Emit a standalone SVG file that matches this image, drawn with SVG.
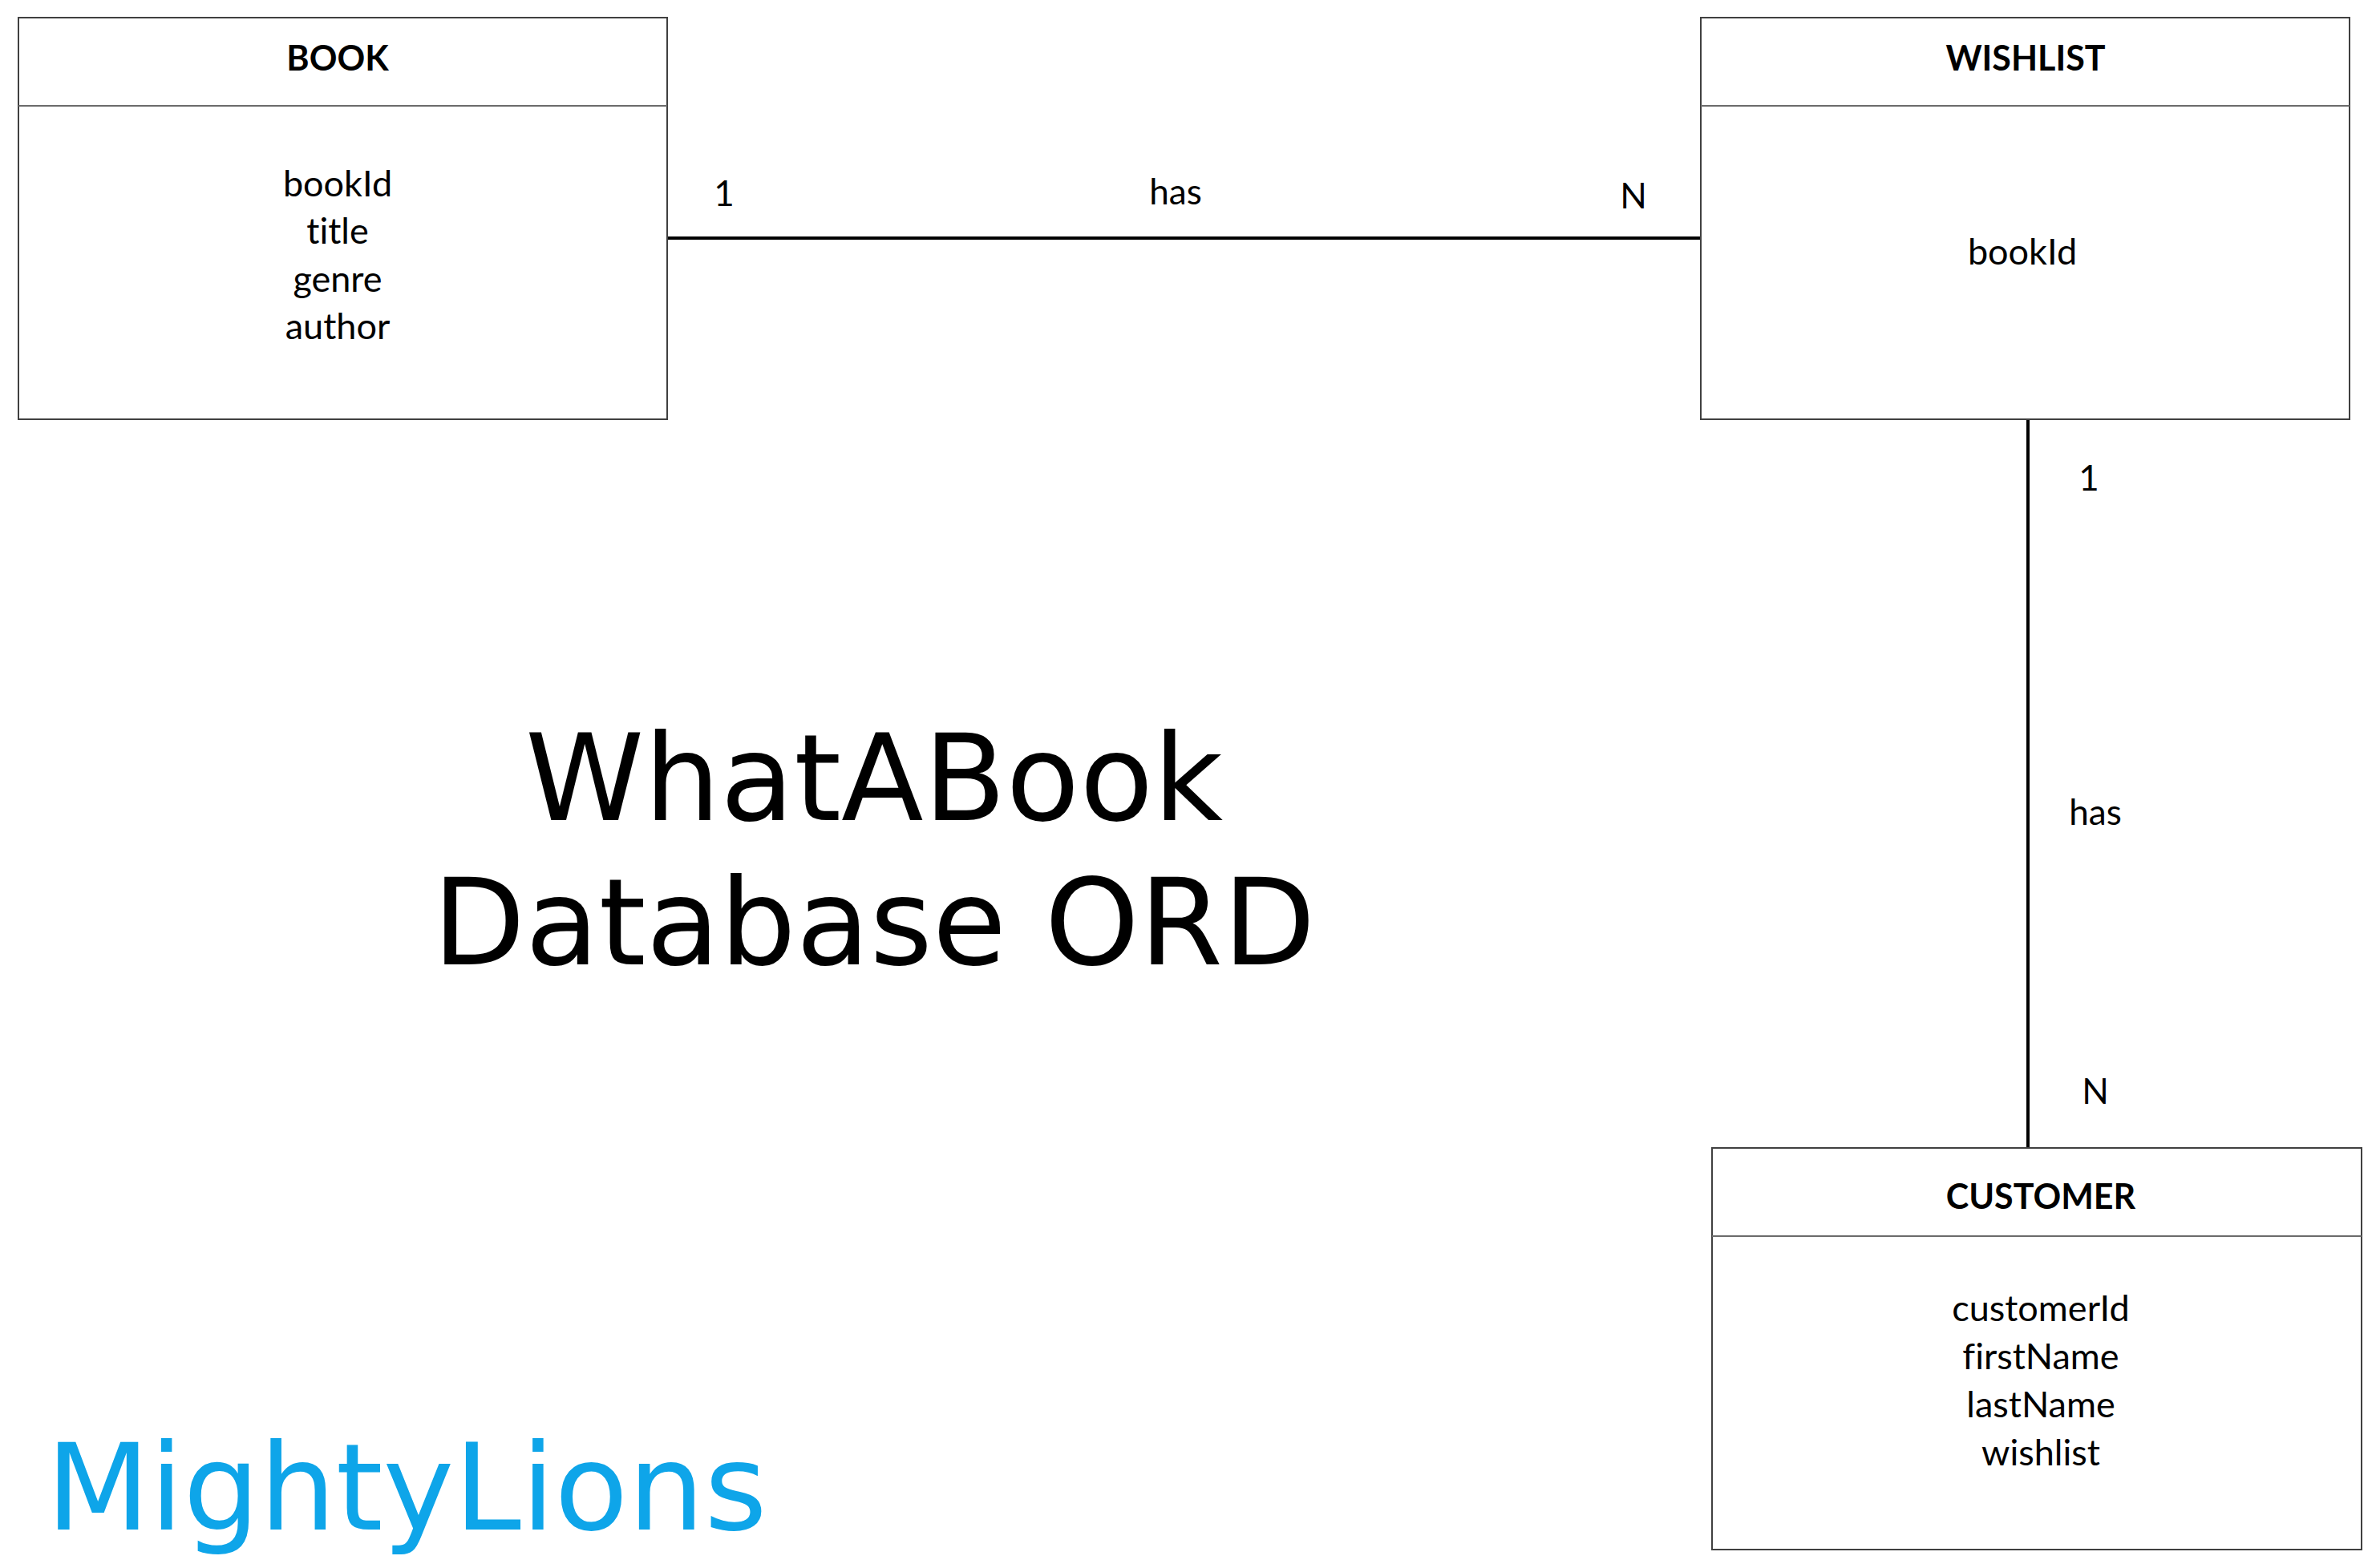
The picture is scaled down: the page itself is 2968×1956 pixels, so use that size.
<svg xmlns="http://www.w3.org/2000/svg" width="2968" height="1956" viewBox="0 0 2968 1956">
  <style>
    text { font-variant-ligatures: none; }
    .box { fill: #ffffff; stroke: #404040; stroke-width: 2; }
    .div { stroke: #6b6b6b; stroke-width: 2; }
    .hdr { font-family: Lato, "Liberation Sans", sans-serif; font-weight: bold; font-size: 43px; fill: #000; text-anchor: middle; }
    .attr { font-family: Lato, "Liberation Sans", sans-serif; font-size: 45px; fill: #000; text-anchor: middle; }
    .lbl { font-family: Lato, "Liberation Sans", sans-serif; font-size: 44px; fill: #000; text-anchor: middle; }
    .conn { stroke: #000; stroke-width: 4; fill: none; }
    .big { font-family: "DejaVu Sans", sans-serif; font-size: 150px; fill: #000; text-anchor: middle; }
    .brand { font-family: "DejaVu Sans", sans-serif; font-size: 150px; fill: #0ea5e9; text-anchor: middle; }
  </style>
  <rect width="2968" height="1956" fill="#ffffff"/>

  <g id="connectors">
    <line class="conn" x1="832" y1="297" x2="2121" y2="297"/>
    <line class="conn" x1="2529" y1="523" x2="2529" y2="1432"/>
    <text class="lbl" x="903" y="257">1</text>
    <text class="lbl" x="1466" y="255">has</text>
    <text class="lbl" x="2037" y="260">N</text>
    <text class="lbl" x="2605" y="612">1</text>
    <text class="lbl" x="2613" y="1029">has</text>
    <text class="lbl" x="2613" y="1377">N</text>
  </g>

  <g id="book">
    <rect class="box" x="23" y="22" width="809" height="501"/>
    <line class="div" x1="23" y1="132" x2="832" y2="132"/>
    <text class="hdr" x="421" y="88">BOOK</text>
    <text class="attr" x="421" y="245">bookId</text>
    <text class="attr" x="421" y="304">title</text>
    <text class="attr" x="421" y="364">genre</text>
    <text class="attr" x="421" y="423">author</text>
  </g>

  <g id="wishlist">
    <rect class="box" x="2121" y="22" width="809" height="501"/>
    <line class="div" x1="2121" y1="132" x2="2930" y2="132"/>
    <text class="hdr" x="2526" y="88">WISHLIST</text>
    <text class="attr" x="2522" y="330">bookId</text>
  </g>

  <g id="customer">
    <rect class="box" x="2135" y="1432" width="810" height="501"/>
    <line class="div" x1="2135" y1="1542" x2="2945" y2="1542"/>
    <text class="hdr" x="2545" y="1508">CUSTOMER</text>
    <text class="attr" x="2545" y="1648">customerId</text>
    <text class="attr" x="2545" y="1708">firstName</text>
    <text class="attr" x="2545" y="1768">lastName</text>
    <text class="attr" x="2545" y="1828">wishlist</text>
  </g>

  <g id="title">
    <text class="big" x="1090" y="1023">WhatABook</text>
    <text class="big" x="1090" y="1203">Database ORD</text>
  </g>

  <g id="brand">
    <text class="brand" x="507" y="1908">MightyLions</text>
  </g>
</svg>
